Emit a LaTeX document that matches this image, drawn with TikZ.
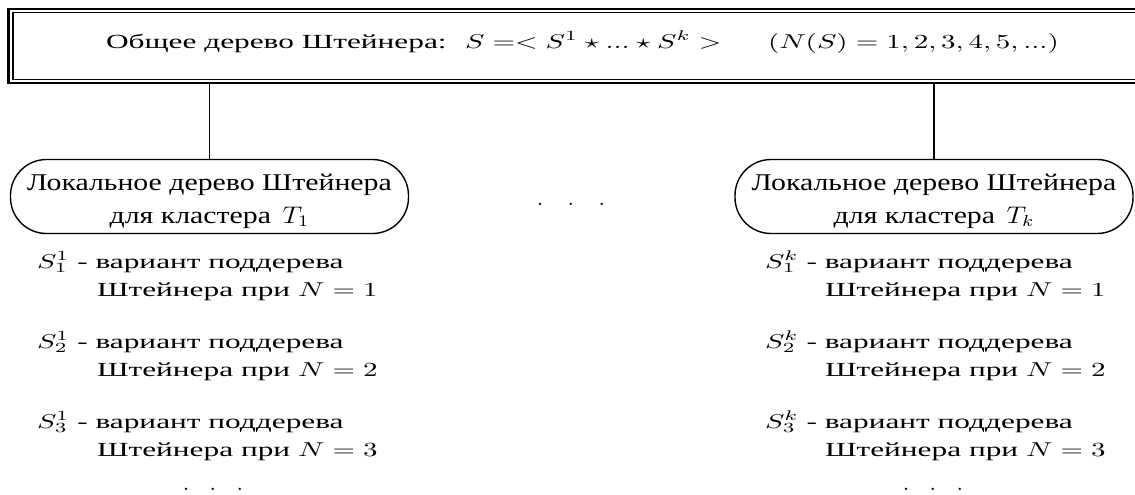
\documentclass[tikz,border=0pt]{standalone}
\usepackage[no-math]{fontspec}
\setmainfont{Liberation Serif}[FakeStretch=1.08]
\usepackage{graphicx}
\newcommand\hx[1]{\scalebox{1.45}[1]{#1}}
\newcommand\stitem[2]{\hx{\begin{tabular}[t]{@{}l@{}}$S_{#1}^{#2}$ - вариант поддерева\\\hspace*{20.7pt}Штейнера при $N=#1$\end{tabular}}}
\newcommand\boxtext[1]{\scalebox{1.15}[1]{\fontsize{12}{14.4}\selectfont\begin{tabular}[t]{@{}c@{}}Локальное дерево Штейнера\\[2.1pt]для кластера\hspace{5pt}$T_{#1}$\end{tabular}}}
\begin{document}
\begin{tikzpicture}[x=0.5pt,y=-0.5pt,
  every node/.style={font=\fontsize{10}{14}\selectfont, inner sep=0pt, outer sep=0pt},
  frame/.style={draw, line width=1.35pt},
  oval/.style={draw, line width=0.7pt, rounded corners=18pt, minimum width=199pt, minimum height=37pt},
  conn/.style={line width=0.8pt},
  lbl/.style={anchor=base west},
  dots/.style={anchor=base},
  bigdots/.style={anchor=base, font=\fontsize{12}{14}\selectfont}]
\clip (0,0) rectangle (1135,494);
% top double frame
\node[frame, anchor=north west, minimum width=570.75pt, minimum height=37pt] (top) at (8.5,9) {};
\draw[line width=0.75pt] ([shift={(4.5,3.5)}]top.north west) rectangle ([shift={(20,-3.5)}]top.south east);
\node[lbl] (t1) at (106,48) {\hx{Общее дерево Штейнера:}};
\node[lbl] (t2) at (465,48) {\hx{$S =< S^1 \star ... \star S^k >$}};
\node[lbl] (t3) at (768,48) {\hx{$(N(S)=1,2,3,4,5,...)$}};
% cluster boxes
\node[oval] (b1) at (209.5,196.5) {};
\node[oval] (bk) at (934,196.5) {};
\node[dots] (b1t) at (209.5,190) {\boxtext{1}};
\node[dots] (bkt) at (934,190) {\boxtext{k}};
\draw[conn] (b1.north |- top.south) -- (b1.north);
\draw[conn] (bk.north |- top.south) -- (bk.north);
\node[bigdots] (dm) at (571,205) {$.\hspace{12.2pt}.\hspace{12.2pt}.$};
% lists
\node[lbl] (l1) at (37,268) {\stitem{1}{1}};
\node[lbl] (l2) at (37,348) {\stitem{2}{1}};
\node[lbl] (l3) at (37,428) {\stitem{3}{1}};
\node[lbl] (r1) at (765,268) {\stitem{1}{k}};
\node[lbl] (r2) at (765,348) {\stitem{2}{k}};
\node[lbl] (r3) at (765,428) {\stitem{3}{k}};
\node[bigdots] (ld) at (213,490) {$.\hspace{10.2pt}.\hspace{10.2pt}.$};
\node[bigdots] (rd) at (933,490) {$.\hspace{10.2pt}.\hspace{10.2pt}.$};
\end{tikzpicture}
\end{document}
